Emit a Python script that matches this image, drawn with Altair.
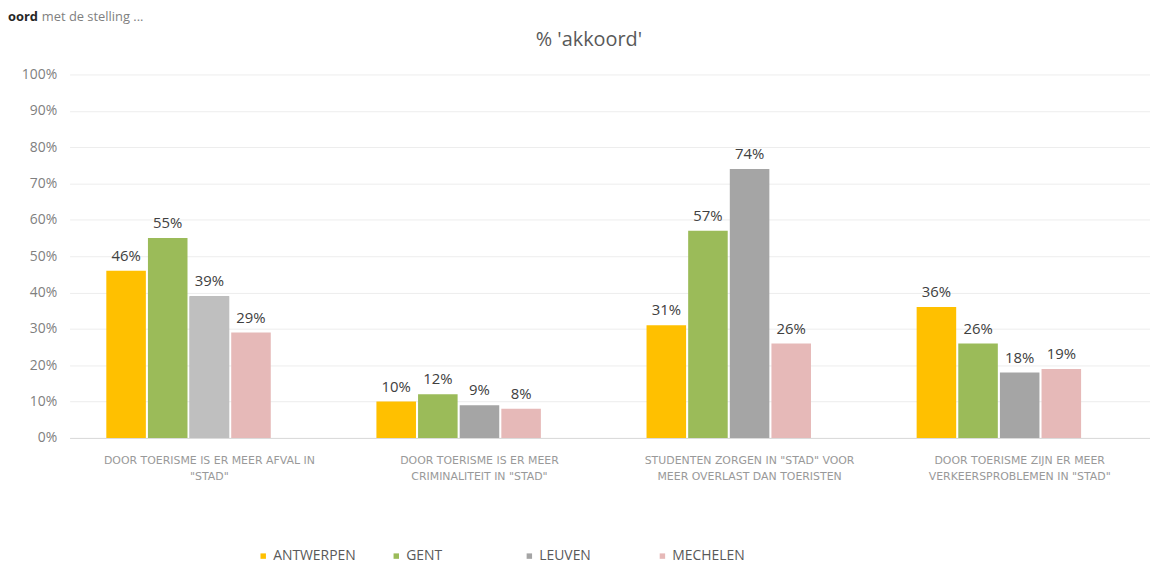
import altair as alt
import pandas as pd

categories = [
    "DOOR TOERISME IS ER MEER AFVAL IN|\"STAD\"",
    "DOOR TOERISME IS ER MEER|CRIMINALITEIT IN \"STAD\"",
    "STUDENTEN ZORGEN IN \"STAD\" VOOR|MEER OVERLAST DAN TOERISTEN",
    "DOOR TOERISME ZIJN ER MEER|VERKEERSPROBLEMEN IN \"STAD\"",
]
cities = ["ANTWERPEN", "GENT", "LEUVEN", "MECHELEN"]
antwerpen = [0.46, 0.10, 0.31, 0.36]
gent = [0.55, 0.12, 0.57, 0.26]
leuven = [0.39, 0.09, 0.74, 0.18]
mechelen = [0.29, 0.08, 0.26, 0.19]
colors = ["#FFC000", "#9BBB59", "#A5A5A5", "#E6B9B8"]
light_gray = "#BFBFBF"
title_text = "% 'akkoord'"
corner_texts = ["oord", "met de stelling ..."]

rows = []
for series, city in zip([antwerpen, gent, leuven, mechelen], cities):
    for cat, v in zip(categories, series):
        rows.append({"categorie": cat, "stad": city, "waarde": v})
df = pd.DataFrame(rows)

offset_domain = cities + ["_"]
FONT = "Open Sans"

x_enc = alt.X(
    "categorie:N",
    sort=categories,
    scale=alt.Scale(paddingInner=0.237, paddingOuter=0.1185, align=0.574),
    axis=alt.Axis(
        title=None,
        labelExpr="split(datum.label, '|')",
        labelAngle=0,
        labelFontSize=11,
        labelColor="#999999",
        labelFont="DejaVu Sans",
        labelLineHeight=16,
        labelPadding=17,
        labelLimit=0,
        ticks=False,
        domainColor="#D9D9D9",
        grid=False,
    ),
)
xo_enc = alt.XOffset(
    "stad:N",
    scale=alt.Scale(domain=offset_domain, paddingInner=0.05, paddingOuter=0),
)
y_enc = alt.Y(
    "waarde:Q",
    scale=alt.Scale(domain=[0, 1]),
    axis=alt.Axis(
        title=None,
        format=".0%",
        values=[i / 10 for i in range(11)],
        labelFontSize=14,
        labelColor="#7F7F7F",
        labelFont=FONT,
        labelPadding=13,
        ticks=False,
        domain=False,
        gridColor="#EDEDED",
    ),
)

base = alt.Chart(df)

bars = base.mark_bar().encode(
    x=x_enc,
    xOffset=xo_enc,
    y=y_enc,
    color=alt.Color(
        "stad:N",
        sort=cities,
        scale=alt.Scale(domain=cities, range=colors),
        legend=alt.Legend(
            title=None,
            orient="none",
            legendX=188,
            legendY=478,
            direction="horizontal",
            columns=4,
            gridAlign="all",
            columnPadding=33,
            symbolType="square",
            symbolSize=30,
            symbolStrokeWidth=0,
            labelFontSize=14,
            labelFont=FONT,
            labelColor="#595959",
            labelOffset=3,
        ),
    ),
)

light = base.transform_filter(
    (alt.datum.stad == "LEUVEN") & (alt.datum.categorie == categories[0])
).mark_bar(color=light_gray).encode(x=x_enc, xOffset=xo_enc, y=y_enc)

labels = base.mark_text(
    baseline="bottom", dy=-7, fontSize=15, font=FONT, color="#404040"
).encode(
    x=x_enc,
    xOffset=xo_enc,
    y=y_enc,
    text=alt.Text("waarde:Q", format=".0%"),
)

texts = pd.DataFrame({"t": [title_text] + corner_texts})
title_mark = alt.Chart(texts.iloc[[0]]).mark_text(
    align="center", baseline="middle", fontSize=20, font=FONT, color="#595959"
).encode(x=alt.value(523), y=alt.value(-35), text="t:N")
corner_bold = alt.Chart(texts.iloc[[1]]).mark_text(
    align="left", baseline="top", fontSize=13, font=FONT, fontWeight="bold", color="#262626"
).encode(x=alt.value(-62), y=alt.value(-64), text="t:N")
corner_reg = alt.Chart(texts.iloc[[2]]).mark_text(
    align="left", baseline="top", fontSize=13, font=FONT, color="#7F7F7F"
).encode(x=alt.value(-28), y=alt.value(-64), text="t:N")

chart = (
    alt.layer(bars, light, labels, title_mark, corner_bold, corner_reg)
    .properties(
        width=1088,
        height=366,
        autosize=alt.AutoSizeParams(type="none"),
        padding={"left": 62, "top": 65, "right": 0, "bottom": 126},
    )
    .configure_view(stroke=None)
    .configure_axis(labelOverlap=False)
)

chart.save("out.html", embed_options={"renderer": "svg", "actions": False})
